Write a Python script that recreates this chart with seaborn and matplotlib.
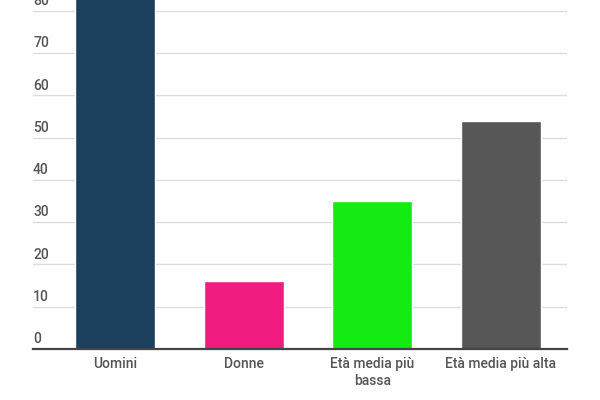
import matplotlib
matplotlib.use("Agg")
import matplotlib.pyplot as plt
import matplotlib.transforms as mtransforms
import seaborn as sns
import pandas as pd

# dati
categorie = ["Uomini", "Donne", "Età media più\nbassa", "Età media più alta"]
valori = [84, 16, 35, 54]
colori = ["#1b3f5d", "#f01c7f", "#13eb13", "#575757"]
yticks = [0, 10, 20, 30, 40, 50, 60, 70, 80]

sns.set_theme(style="white")
plt.rcParams["font.family"] = ["Roboto", "DejaVu Sans"]

df = pd.DataFrame({"categoria": categorie, "valore": valori})

fig = plt.figure(figsize=(6, 4), dpi=100)
ax = fig.add_axes([0.055, 0.1275, 0.89, 0.8725])

sns.barplot(data=df, x="categoria", y="valore", hue="categoria",
            palette=colori, width=0.62, legend=False, ax=ax, saturation=1)

ax.set_ylim(0, 82.6)
ax.set_xlim(-0.637, 3.513)

# griglia orizzontale
for t in yticks[1:]:
    ax.axhline(t, color="#dddddd", lw=1, zorder=0)
ax.set_axisbelow(True)

# etichette asse y sopra le linee, allineate a sinistra
trans = mtransforms.blended_transform_factory(ax.transAxes, ax.transData)
for t in yticks:
    ax.text(0.0, t + 0.7, str(t), transform=trans, ha="left", va="bottom",
            fontsize=10, fontweight="medium", color="#555555")

ax.set_yticks([])
ax.set_xlabel("")
ax.set_ylabel("")
ax.tick_params(axis="x", length=0, pad=6, labelsize=10, labelcolor="#555555")
for lab in ax.get_xticklabels():
    lab.set_fontweight("medium")
for s in ["top", "right", "left"]:
    ax.spines[s].set_visible(False)
ax.spines["bottom"].set_color("#444444")
ax.spines["bottom"].set_linewidth(1.6)

fig.savefig("out.png", dpi=100)
